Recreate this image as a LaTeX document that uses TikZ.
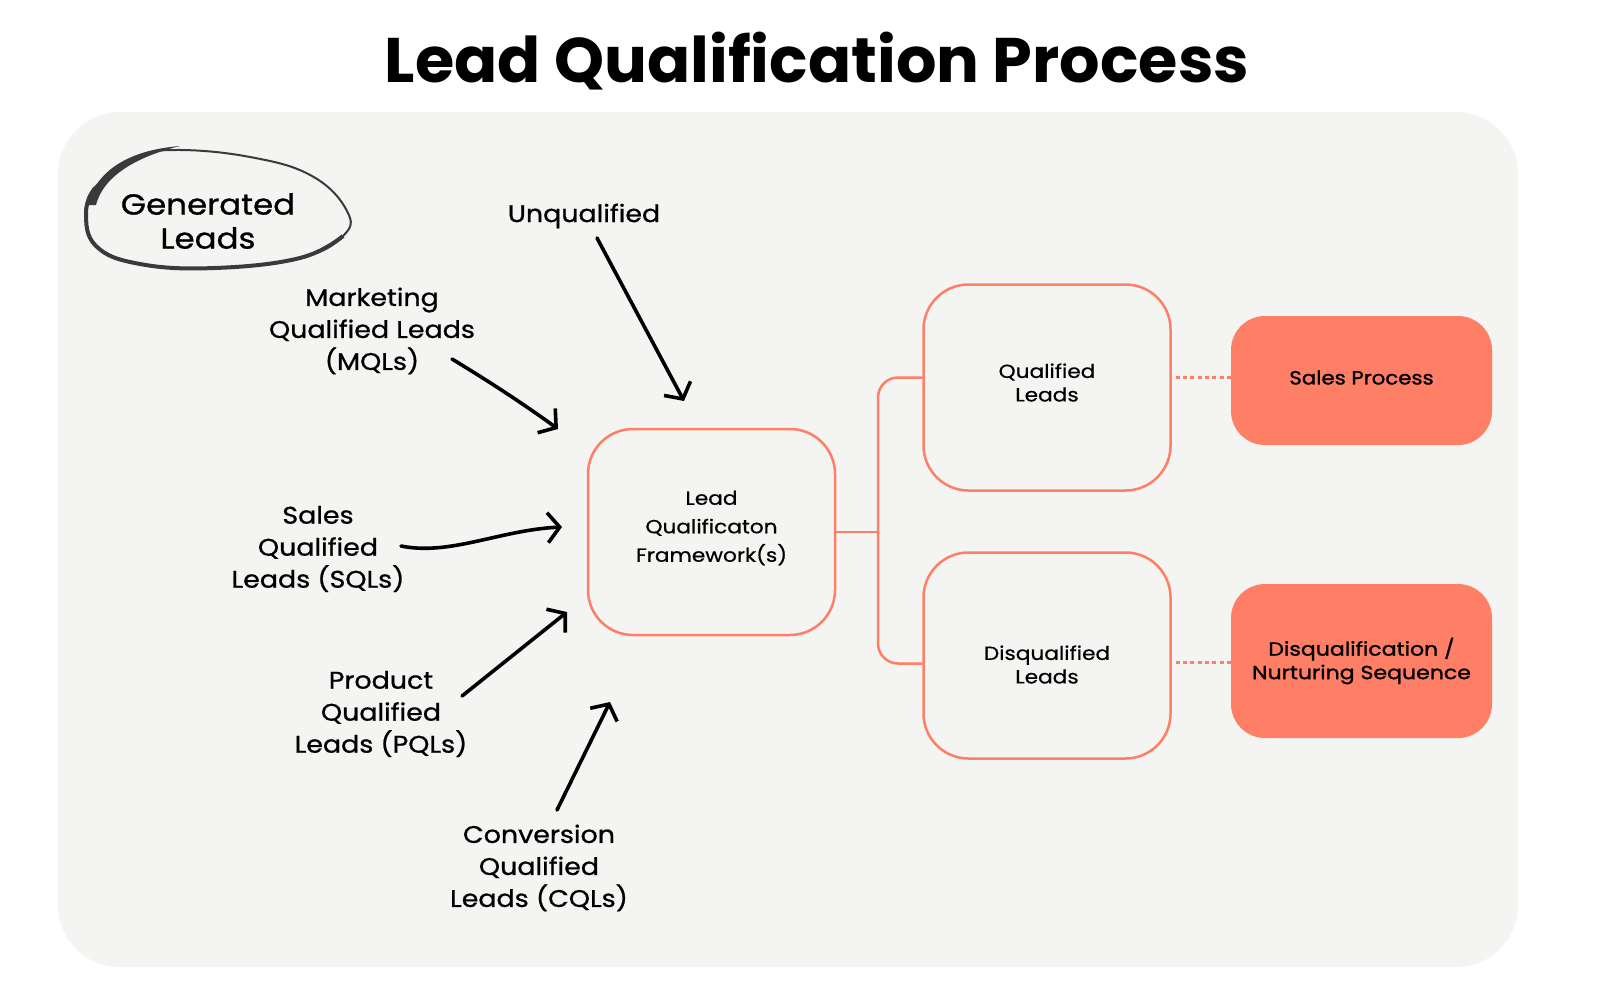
\documentclass[tikz,border=0pt]{standalone}
\usepackage{fontspec}
\setmainfont{Poppins}
\newfontfamily\lblfont{Poppins}[FakeStretch=1.12, FakeBold=0.9]
\newfontfamily\boxfont{Poppins}[FakeStretch=1.14, FakeBold=0.6]
\newfontfamily\spfont{Poppins}[FakeStretch=1.12, FakeBold=1.3]
\newfontfamily\dqfont{Poppins}[FakeStretch=1.16, FakeBold=1.3]
\newfontfamily\titlefont{Poppins}[FakeStretch=1.01]
\usetikzlibrary{arrows.meta}
\definecolor{coral}{HTML}{FF7F66}
\definecolor{bgc}{HTML}{F4F4F2}
\definecolor{pen}{HTML}{3A3A3A}
\tikzset{
  outbox/.style={draw=coral, line width=2.5pt, rounded corners=45pt, fill=bgc, inner sep=0pt, minimum width=247pt, minimum height=206pt},
  boxtext/.style={align=center, inner sep=0pt, font=\boxfont\fontsize{19}{23.5}\selectfont},
  fwtext/.style={align=center, inner sep=0pt, font=\boxfont\fontsize{19}{28.5}\selectfont},
  fillbox/.style={fill=coral, rounded corners=34pt, align=center, inner sep=0pt, minimum width=261pt, font=\spfont\fontsize{19}{23.5}\selectfont},
  lbl/.style={align=center, inner sep=0pt, font=\lblfont\fontsize{24}{32}\selectfont},
  conn/.style={draw=coral, line width=2.5pt},
  dots/.style={draw=coral, line width=3.6pt, dash pattern=on 4pt off 3.3pt},
  harrow/.style={draw=black, line width=3.6pt, line cap=round, line join=round, -{Straight Barb[length=12pt,width=30pt]}}
}
\begin{document}
\begin{tikzpicture}[x=1pt,y=-1pt]
\useasboundingbox (0,0) rectangle (1600,988);
\fill[white] (0,0) rectangle (1600,988);
\fill[bgc, rounded corners=62pt] (58,112) rectangle (1518,967);

\node[anchor=base, font=\titlefont\fontsize{63}{70}\selectfont\bfseries] (title) at (817,82) {Lead Qualification Process};

% Generated leads oval (hand-drawn look)
\draw[pen, line width=2pt] plot[smooth cycle, tension=0.7] coordinates {(175,150) (250,157) (312,176) (347,211) (343,236) (300,258) (215,268) (140,264) (96,246) (86,212) (97,185) (135,158)};
\draw[pen, line width=4pt, line cap=butt] plot[smooth, tension=0.7] coordinates {(343,236) (300,258) (215,268) (140,264) (96,246) (86,212) (95,188)};
\fill[pen] (88,205) .. controls (96,170) and (130,150) .. (180,146)
  .. controls (140,156) and (104,174) .. (96,205) -- cycle;
\node[align=center, inner sep=0pt, font=\lblfont\fontsize{29}{34}\selectfont] (gen) at (208,221) {Generated\\Leads};

% boxes
\node[outbox] (fw) at (711.5,532) {};
\node[outbox] (ql) at (1047,387.5) {};
\node[outbox] (dq) at (1047,655.5) {};
\node[fwtext] (fwt) at ([yshift=4pt]fw.center) {Lead\\Qualificaton\\Framework(s)};
\node[boxtext] (qlt) at ([yshift=5pt]ql.center) {Qualified\\Leads};
\node[boxtext] (dqt) at ([yshift=-9pt]dq.center) {Disqualified\\Leads};
\node[fillbox, minimum height=129pt] (sp) at (1361.5,380.5) {};
\node[fillbox] (spt) at ([yshift=3pt]sp.center) {Sales Process};
\node[fillbox, minimum height=154pt, font=\dqfont\fontsize{19}{23.5}\selectfont] (dqs) at (1361.5,661) {Disqualification /\\Nurturing Sequence};

% tree connector
\coordinate (j) at (878,532);
\draw[conn] (fw.east) -- (j);
\draw[conn, rounded corners=20pt] ([yshift=10pt]ql.west) -| (j) |- ([yshift=-8pt]dq.west);
\coordinate (qa) at ([xshift=4pt,yshift=10pt]ql.east);
\coordinate (da) at ([xshift=4pt,yshift=-7pt]dq.east);
\draw[dots] (qa) -- (qa -| sp.west);
\draw[dots] (da) -- (da -| dqs.west);

% labels
\node[lbl] (unq) at (584,216) {Unqualified};
\node[lbl] (mql) at (372,331) {Marketing\\Qualified Leads\\(MQLs)};
\node[lbl] (sql) at (318,549) {Sales\\Qualified\\Leads (SQLs)};
\node[lbl] (pql) at (381,714) {Product\\Qualified\\Leads (PQLs)};
\node[lbl] (cql) at (539,868) {Conversion\\Qualified\\Leads (CQLs)};

% arrow ends
\coordinate (u0) at (597,238); \coordinate (u1) at (684,401);
\coordinate (m0) at (452,359); \coordinate (m1) at (558,429);
\coordinate (s0) at (401,546); \coordinate (s1) at (562,527);
\coordinate (p0) at (462,696); \coordinate (p1) at (567,612);
\coordinate (c0) at (557,810); \coordinate (c1) at (610,702);

\draw[harrow] (u0) -- (u1);
\draw[harrow] (m0) .. controls (490,382) and (525,405) .. (m1);
\draw[harrow] (s0) .. controls (450,556) and (500,530) .. (s1);
\draw[harrow] (p0) -- (p1);
\draw[harrow] (c0) -- (c1);
\end{tikzpicture}
\end{document}
